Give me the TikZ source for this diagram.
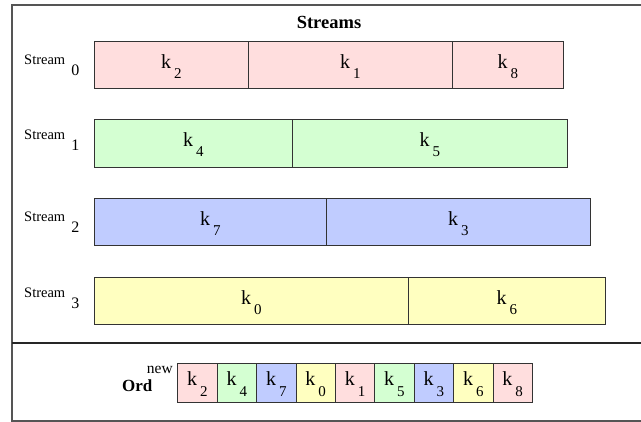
\documentclass[tikz,border=0pt]{standalone}
\usepackage{fontspec}
\setmainfont{Liberation Serif}
\definecolor{cpink}{RGB}{255,222,222}
\definecolor{cgreen}{RGB}{212,255,210}
\definecolor{cblue}{RGB}{192,204,255}
\definecolor{cyell}{RGB}{255,255,192}
\definecolor{frame}{RGB}{85,85,85}
\newcommand\kk[2][10pt]{\fontsize{20}{20}\selectfont k\hspace{3pt}\raisebox{-#1}{\fontsize{15}{15}\selectfont #2}}
\newcommand\strm[1]{\fontsize{14.5}{14.5}\selectfont Stream\hspace{6pt}\raisebox{-11pt}{\fontsize{16}{16}\selectfont #1}}
\tikzset{
  cellbox/.style={draw=black!80, line width=0.9pt, inner sep=0pt, anchor=north west,
    text height=12pt, text depth=5pt},
  ordcell/.style={cellbox, minimum width=39.4pt, minimum height=39pt, text height=10pt, text depth=5pt},
  framel/.style={draw=frame, line width=2pt},
  slabel/.style={anchor=base west, inner sep=0pt}
}
\begin{document}
\begin{tikzpicture}[x=1pt,y=-1pt]
\useasboundingbox (0,0) rectangle (641,422);
% frame
\coordinate (tl) at (12,5);
\coordinate (tr) at (641,5);
\coordinate (bl) at (12,421);
\coordinate (br) at (641,421);
\coordinate (ml) at (12,343);
\coordinate (mr) at (641,343);
\draw[framel] (tr) -- (tl) -- (bl) -- (br);
\draw[framel, draw=black!85] (ml) -- (mr);
% title
\node[anchor=base, inner sep=0pt, font=\bfseries\fontsize{18.5}{18.5}\selectfont] (title) at (329,29) {Streams};
% stream 0
\node[slabel] (l0) at (24,65) {\strm{0}};
\node[cellbox, fill=cpink, minimum width=154pt, minimum height=47pt] (a0) at (94,41) {\kk{2}};
\node[cellbox, fill=cpink, minimum width=204pt, minimum height=47pt] (a1) at (248,41) {\kk{1}};
\node[cellbox, fill=cpink, minimum width=111pt, minimum height=47pt] (a2) at (452,41) {\kk{8}};
% stream 1
\node[slabel] (l1) at (24,140) {\strm{1}};
\node[cellbox, fill=cgreen, minimum width=198pt, minimum height=48pt] (b0) at (94,119) {\kk{4}};
\node[cellbox, fill=cgreen, minimum width=275pt, minimum height=48pt] (b1) at (292,119) {\kk{5}};
% stream 2
\node[slabel] (l2) at (24,222) {\strm{2}};
\node[cellbox, fill=cblue, minimum width=232pt, minimum height=47pt] (c0) at (94,198) {\kk{7}};
\node[cellbox, fill=cblue, minimum width=264pt, minimum height=47pt] (c1) at (326,198) {\kk{3}};
% stream 3
\node[slabel] (l3) at (24,298) {\strm{3}};
\node[cellbox, fill=cyell, minimum width=314pt, minimum height=47pt] (d0) at (94,277) {\kk{0}};
\node[cellbox, fill=cyell, minimum width=197pt, minimum height=47pt] (d1) at (408,277) {\kk{6}};
% ord
\node[anchor=base west, inner sep=0pt, font=\bfseries\fontsize{17}{17}\selectfont] (ord) at (122,392) {Ord};
\node[anchor=base east, inner sep=0pt, font=\fontsize{15.5}{15.5}\selectfont] (new) at (173,374) {new};
\node[ordcell, fill=cpink]  (o0) at (177.3,363) {\kk[11pt]{2}};
\node[ordcell, fill=cgreen] (o1) at (216.7,363) {\kk[11pt]{4}};
\node[ordcell, fill=cblue]  (o2) at (256.1,363) {\kk[11pt]{7}};
\node[ordcell, fill=cyell]  (o3) at (295.5,363) {\kk[11pt]{0}};
\node[ordcell, fill=cpink]  (o4) at (334.9,363) {\kk[11pt]{1}};
\node[ordcell, fill=cgreen] (o5) at (374.3,363) {\kk[11pt]{5}};
\node[ordcell, fill=cblue]  (o6) at (413.7,363) {\kk[11pt]{3}};
\node[ordcell, fill=cyell]  (o7) at (453.1,363) {\kk[11pt]{6}};
\node[ordcell, fill=cpink]  (o8) at (492.5,363) {\kk[11pt]{8}};
\end{tikzpicture}
\end{document}
